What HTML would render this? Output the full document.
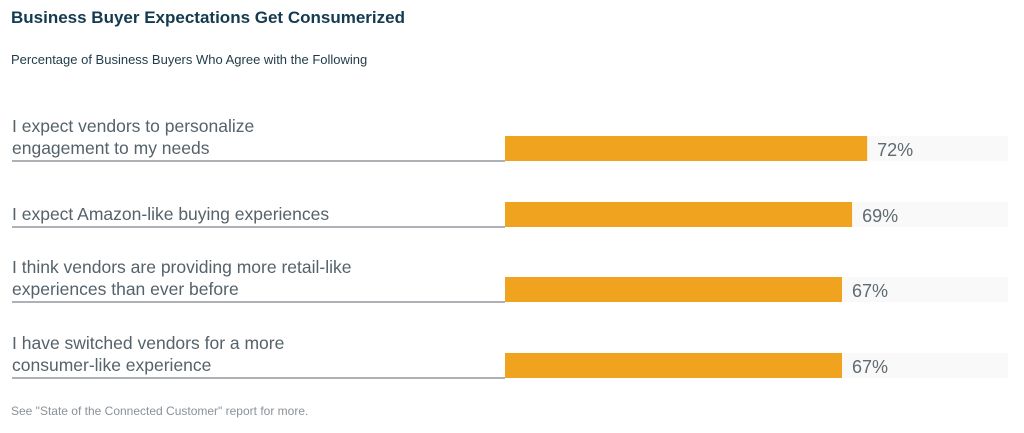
<!DOCTYPE html>
<html><head><meta charset="utf-8"><style>
body{margin:0;background:#fff;font-family:"Liberation Sans",sans-serif;}
#c{position:relative;width:1024px;height:433px;overflow:hidden;}
.t{position:absolute;white-space:nowrap;}
</style></head><body>
<div id="c">
<div class="t" style="left:11px;top:8px;font-size:17px;font-weight:bold;color:#133a4f;">Business Buyer Expectations Get Consumerized</div>
<div class="t" style="left:11px;top:52px;font-size:13px;color:#1f3a4a;">Percentage of Business Buyers Who Agree with the Following</div>
<svg id="s" width="1024" height="433" style="position:absolute;left:0;top:0"></svg>
<div class="t" style="left:11px;top:404px;font-size:12px;color:#8a9197;">See "State of the Connected Customer" report for more.</div>
</div>
<script>
const categories=[["I expect vendors to personalize","engagement to my needs"],["I expect Amazon-like buying experiences"],["I think vendors are providing more retail-like","experiences than ever before"],["I have switched vendors for a more","consumer-like experience"]];
const values=[72,69,67,67];
const valueLabels=["72%","69%","67%","67%"];
const rowBottoms=[161,227,302,378];
const x0=505,scale=5.03,barH=25;
const X=v=>x0+v*scale;
const svg=document.getElementById('s');
const NS='http://www.w3.org/2000/svg';
function mk(tag,attrs){const e=document.createElementNS(NS,tag);for(const k in attrs)e.setAttribute(k,attrs[k]);svg.appendChild(e);return e;}
values.forEach((v,i)=>{
  const yb=rowBottoms[i];
  const tr=mk('rect',{x:x0,y:yb-barH,width:X(100)-x0,height:barH,fill:'#f9f9f9'});
  
  
  const b=mk('rect',{x:x0,y:yb-barH,width:X(v)-x0,height:barH,fill:'#f0a31e'});
  
  
  const ln=mk('line',{x1:12,x2:x0,y1:yb,y2:yb,stroke:'#7d858b','stroke-width':1.3});
  
  
  const lines=categories[i];
  lines.forEach((s,j)=>{
    const t=mk('text',{x:12,y:yb-7-(lines.length-1-j)*22,'font-size':17.5,fill:'#55626a','font-family':'Liberation Sans, sans-serif'});
    t.textContent=s;
    
    
  });
  const vl=mk('text',{x:X(v)+10,y:yb-5,'font-size':18,fill:'#5f6a71','font-family':'Liberation Sans, sans-serif'});
  vl.textContent=valueLabels[i];
  
  
});
</script>
</body></html>
